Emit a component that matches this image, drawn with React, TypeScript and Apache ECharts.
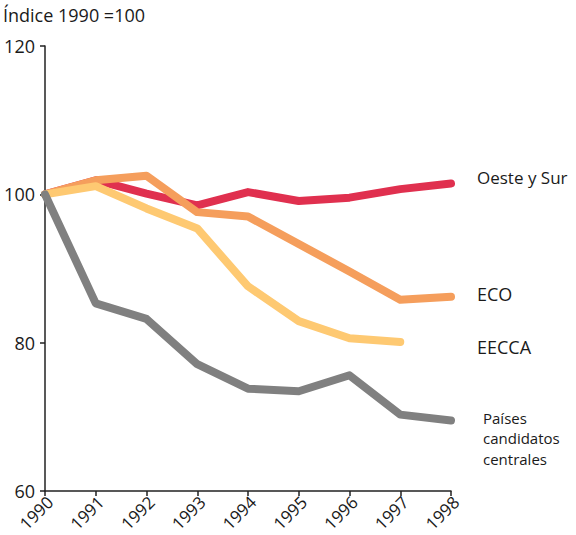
import React, { useEffect, useRef } from "react";
import * as echarts from "echarts";

const years = ["1990", "1991", "1992", "1993", "1994", "1995", "1996", "1997", "1998"];
const oesteSur = [100, 101.9, 100.1, 98.5, 100.3, 99.1, 99.55, 100.7, 101.45];
const eco = [100, 101.9, 102.5, 97.6, 97.0, 93.3, 89.6, 85.8, 86.2];
const eecca = [100, 101.1, 98.1, 95.4, 87.6, 82.9, 80.6, 80.1, null];
const paises = [100, 85.3, 83.2, 77.1, 73.8, 73.45, 75.6, 70.3, 69.5];
const yTicks = { min: 60, max: 120, interval: 20 };
const paisesLabel = ["Países", "candidatos", "centrales"];

const FONT = "'Open Sans', 'Noto Sans', sans-serif";
const TXT = "#1a1a1a";

export default function App() {
  const ref = useRef<HTMLDivElement>(null);
  useEffect(() => {
    const chart = echarts.init(ref.current!, null, { renderer: "svg" });
    const mk = (name: string, data: (number | null)[], color: string) => ({
      name,
      type: "line",
      data,
      symbol: "none",
      lineStyle: { color, width: 8, cap: "round", join: "round" },
      itemStyle: { color },
    });
    chart.setOption({
      animation: false,
      grid: { left: 45, right: 125, top: 46, bottom: 44, containLabel: false, outerBoundsMode: "none" },
      xAxis: {
        type: "category",
        data: years,
        boundaryGap: false,
        axisLine: { lineStyle: { color: "#222", width: 1.5 } },
        axisTick: { length: 5, lineStyle: { color: "#222", width: 1.5 } },
        axisLabel: { rotate: 45, color: TXT, fontSize: 17, fontFamily: FONT, margin: 13, padding: [0, -7, 0, 0] },
      },
      yAxis: {
        type: "value",
        min: yTicks.min,
        max: yTicks.max,
        interval: yTicks.interval,
        splitLine: { show: false },
        axisLine: { show: true, lineStyle: { color: "#222", width: 1.5 } },
        axisTick: { show: true, length: 5, lineStyle: { color: "#222", width: 1.5 } },
        axisLabel: { color: TXT, fontSize: 18, fontFamily: FONT, margin: 10 },
      },
      series: [
        mk("Oeste y Sur", oesteSur, "#e0304f"),
        mk("ECO", eco, "#f59e5c"),
        mk("EECCA", eecca, "#fec972"),
        mk("Países candidatos centrales", paises, "#808080"),
      ],
      graphic: [
        { type: "text", left: 3, top: 6, style: { text: "Índice 1990 =100", fontSize: 18, fontFamily: FONT, fill: TXT } },
        { type: "text", left: 477, top: 169, style: { text: "Oeste y Sur", fontSize: 17, fontFamily: FONT, fill: TXT } },
        { type: "text", left: 477, top: 285, style: { text: "ECO", fontSize: 18, fontFamily: FONT, fill: TXT } },
        { type: "text", left: 477, top: 338, style: { text: "EECCA", fontSize: 18, fontFamily: FONT, fill: TXT } },
        ...paisesLabel.map((t, i) => ({
          type: "text",
          left: 483,
          top: 410 + i * 20.5,
          style: { text: t, fontSize: 15, fontFamily: FONT, fill: TXT },
        })),
      ],
    });
    return () => chart.dispose();
  }, []);
  return <div ref={ref} style={{ width: 576, height: 535, position: "absolute", left: 0, top: 0 }} />;
}
